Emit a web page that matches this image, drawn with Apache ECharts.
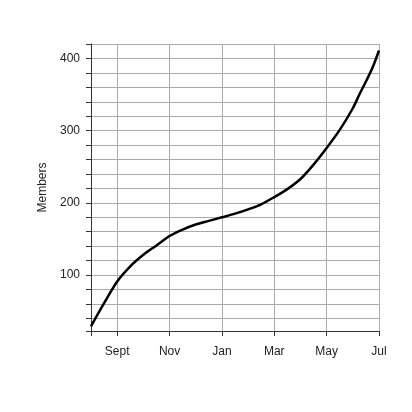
<!DOCTYPE html>
<html>
<head>
<meta charset="utf-8">
<script src="https://cdn.jsdelivr.net/npm/echarts@6/dist/echarts.min.js"></script>
<style>
html,body{margin:0;padding:0;background:#fff;}
#c{width:412px;height:412px;}
</style>
</head>
<body>
<div id="c"></div>
<script>
// Month index 0 = Aug ... 11 = Jul
const monthNames = ['Aug','Sept','Oct','Nov','Dec','Jan','Feb','Mar','Apr','May','Jun','Jul'];
const labeledMonths = [1, 3, 5, 7, 9, 11];
const tickMonths = [0, 1, 3, 5, 7, 9, 11];
const monthPos = [0, 0.5, 1, 1.5, 2, 2.5, 3, 3.5, 4, 4.5, 5, 5.5, 6, 6.5, 7, 7.5, 8, 8.5, 9, 9.5, 10, 10.25, 10.5, 10.75, 11];
const members  = [29, 61, 91, 112, 128, 141, 154, 163, 170, 175, 180, 185, 191, 198, 208, 219, 233, 253, 276, 301, 331, 350, 368, 387, 411];

const chart = echarts.init(document.getElementById('c'), null, {renderer: 'canvas'});
const font = 'Liberation Sans';
chart.setOption({
  animation: false,
  backgroundColor: '#ffffff',
  grid: {left: 91, top: 44, right: 33, bottom: 81, containLabel: false},
  xAxis: {
    type: 'value',
    min: 0, max: 11, interval: 1,
    axisLine: {show: true, lineStyle: {color: '#333', width: 1}},
    axisTick: {show: true, length: 5, customValues: tickMonths, lineStyle: {color: '#333'}},
    axisLabel: {
      customValues: labeledMonths,
      margin: 15,
      color: '#222', fontFamily: font, fontSize: 12,
      formatter: v => monthNames[Math.round(v)]
    },
    splitLine: {show: true, lineStyle: {color: '#ababab', width: 1}}
  },
  yAxis: {
    type: 'value',
    min: 22.5, max: 420, splitNumber: 20,
    name: 'Members', nameLocation: 'middle', nameGap: 38,
    nameTextStyle: {color: '#222', fontFamily: font, fontSize: 12},
    axisLine: {show: true, lineStyle: {color: '#333', width: 1}},
    axisTick: {show: true, length: 5, lineStyle: {color: '#333'}},
    axisLabel: {
      margin: 11, color: '#222', fontFamily: font, fontSize: 12,
      formatter: v => (Math.abs(v % 100) < 1e-6 ? String(v) : '')
    },
    splitLine: {show: true, lineStyle: {color: '#ababab', width: 1}}
  },
  series: [{
    type: 'line',
    data: monthPos.map((m, i) => [m, members[i]]),
    showSymbol: false,
    smooth: 0.3,
    lineStyle: {color: '#000', width: 2.5},
    itemStyle: {color: '#000'}
  }]
});
</script>
</body>
</html>
